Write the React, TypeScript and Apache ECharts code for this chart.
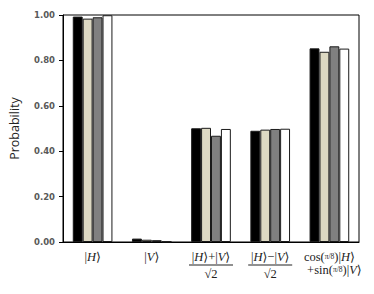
import React, { useEffect, useRef } from "react";
import * as echarts from "echarts";

const categories = ["H", "V", "HplusV", "HminusV", "cosH_sinV"];
const seriesBlack = [0.993, 0.015, 0.501, 0.49, 0.853];
const seriesBeige = [0.984, 0.01, 0.503, 0.495, 0.838];
const seriesGray = [0.99, 0.008, 0.468, 0.498, 0.862];
const seriesWhite = [0.999, 0.002, 0.498, 0.499, 0.852];
const yTickLabels = ["0.00", "0.20", "0.40", "0.60", "0.80", "1.00"];

const ket = (s: string) => `{n||}{i|${s}}{n|⟩}`;

const labelText: Record<string, string> = {
  H: ket("H"),
  V: ket("V"),
  HplusV: `${ket("H")}{n|+}${ket("V")}\n{bar| }\n{n|√2}`,
  HminusV: `${ket("H")}{n|−}${ket("V")}\n{bar| }\n{n|√2}`,
  cosH_sinV: `{n|cos(}{f|π/8}{n|)}${ket("H")}\n{sp| }{n|+sin(}{f|π/8}{n|)}${ket("V")}`,
};

export default function App() {
  const ref = useRef<HTMLDivElement>(null);
  useEffect(() => {
    if (!ref.current) return;
    const chart = echarts.init(ref.current, undefined, { renderer: "svg" });
    const mk = (name: string, data: number[], color: string) => ({
      name,
      type: "bar",
      data,
      barGap: "0%",
      barCategoryGap: "33%",
      itemStyle: { color, borderColor: "#1a1a1a", borderWidth: 1 },
    });
    const serif = "'Liberation Serif', 'DejaVu Serif', serif";
    chart.setOption({
      animation: false,
      backgroundColor: "#ffffff",
      grid: {
        left: 61,
        right: 15,
        top: 15,
        bottom: 52,
        show: true,
        borderColor: "#000",
        borderWidth: 1,
      },
      xAxis: {
        type: "category",
        data: categories,
        axisLine: { show: true, lineStyle: { color: "#000", width: 1 } },
        axisTick: { show: false },
        axisLabel: {
          margin: 8,
          interval: 0,
          color: "#222",
          fontFamily: serif,
          fontSize: 12.5,
          lineHeight: 13,
          formatter: (v: string) => labelText[v],
          rich: {
            n: { fontFamily: serif, fontSize: 12.5, color: "#222" },
            i: { fontFamily: serif, fontSize: 12.5, fontStyle: "italic", color: "#222" },
            f: { fontFamily: serif, fontSize: 7.5, color: "#222" },
            bar: { width: 44, height: 1, lineHeight: 4, backgroundColor: "#222", fontSize: 1 },
            sp: { width: 10, fontSize: 1 },
          },
        },
      },
      yAxis: {
        type: "value",
        min: 0,
        max: 1,
        interval: 0.2,
        name: "Probability",
        nameLocation: "middle",
        nameGap: 42,
        nameTextStyle: { fontFamily: "'Open Sans', 'DejaVu Sans', sans-serif", fontSize: 12.5, color: "#222" },
        axisLine: { show: true, lineStyle: { color: "#000", width: 1 } },
        axisTick: { show: true, inside: false, length: 4, lineStyle: { color: "#000" } },
        splitLine: { show: false },
        axisLabel: {
          margin: 8,
          fontFamily: "'DejaVu Sans', sans-serif",
          fontSize: 8.5,
          fontWeight: "bold",
          color: "#595959",
          formatter: (v: number) => yTickLabels[Math.round(v * 5)] ?? v.toFixed(2),
        },
      },
      series: [
        mk("a", seriesBlack, "#000000"),
        mk("b", seriesBeige, "#ddd9c3"),
        mk("c", seriesGray, "#808080"),
        mk("d", seriesWhite, "#ffffff"),
      ],
    });
    return () => chart.dispose();
  }, []);
  return <div ref={ref} style={{ width: 374, height: 294, position: "absolute", left: 0, top: 0 }} />;
}
